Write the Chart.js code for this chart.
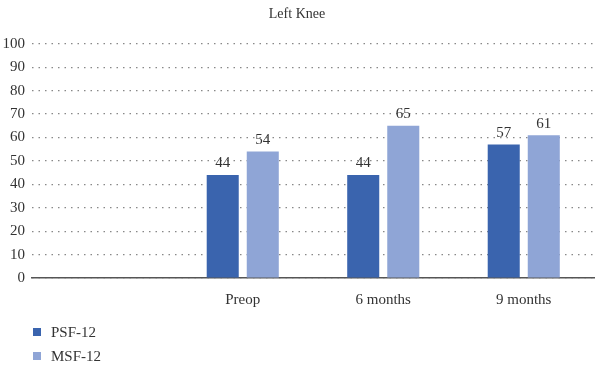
<!DOCTYPE html>
<html>
<head>
<meta charset="utf-8">
<script src="https://cdn.jsdelivr.net/npm/chart.js@4/dist/chart.umd.min.js"></script>
<style>
  html, body { margin: 0; padding: 0; background: #fff; }
  #wrap { width: 600px; height: 368px; }
</style>
</head>
<body>
<div id="wrap"><canvas id="chart" width="600" height="368"></canvas></div>
<script>
// Chart data
const categories = ['', 'Preop', '6 months', '9 months'];
const psfValues = [null, 44, 44, 57];
const msfValues = [null, 54, 65, 61];
const seriesNames = ['PSF-12', 'MSF-12'];
const seriesColors = ['#3a64ae', '#8fa5d6'];

const serif = '"Liberation Serif", "DejaVu Serif", serif';
const textColor = '#333';

// Values written above each bar
const barValues = {
    id: 'barValues',
    afterDatasetsDraw(chart) {
        const ctx = chart.ctx;
        ctx.save();
        ctx.font = '15px ' + serif;
        ctx.fillStyle = textColor;
        ctx.textAlign = 'center';
        ctx.textBaseline = 'bottom';
        chart.data.datasets.forEach((ds, i) => {
            chart.getDatasetMeta(i).data.forEach((bar, j) => {
                if (ds.data[j] == null) return;
                ctx.fillText(ds.data[j], bar.x, bar.y - 4);
            });
        });
        ctx.restore();
    }
};

// Vertical legend under the plot, left side
const stackedLegend = {
    id: 'stackedLegend',
    afterDraw(chart) {
        const ctx = chart.ctx;
        ctx.save();
        ctx.font = '15px ' + serif;
        ctx.textBaseline = 'middle';
        chart.data.datasets.forEach((ds, i) => {
            const y = 332 + i * 24;
            ctx.fillStyle = ds.backgroundColor;
            ctx.fillRect(33, y - 4, 8, 8);
            ctx.fillStyle = textColor;
            ctx.fillText(ds.label, 51, y + 1);
        });
        ctx.restore();
    }
};

new Chart(document.getElementById('chart'), {
    type: 'bar',
    data: {
        labels: categories,
        datasets: [
            { label: seriesNames[0], data: psfValues, backgroundColor: seriesColors[0] },
            { label: seriesNames[1], data: msfValues, backgroundColor: seriesColors[1] }
        ]
    },
    options: {
        responsive: false,
        animation: false,
        layout: { padding: { left: 0, right: 6, top: 0, bottom: 54 } },
        datasets: {
            bar: { categoryPercentage: 0.57, barPercentage: 0.8 }
        },
        plugins: {
            legend: { display: false },
            tooltip: { enabled: false },
            title: {
                display: true,
                text: 'Left Knee',
                color: textColor,
                font: { family: serif, size: 14, weight: 'normal' },
                padding: { top: 6, bottom: 21 }
            }
        },
        scales: {
            x: {
                grid: { display: false },
                border: { display: true, color: '#555', width: 1.5 },
                ticks: { color: textColor, font: { family: serif, size: 15 }, padding: 5 }
            },
            y: {
                min: 0,
                max: 100,
                afterFit(scale) { scale.width = 32; },
                ticks: { stepSize: 10, color: textColor, font: { family: serif, size: 15 }, padding: 7 },
                grid: { color: '#888', drawTicks: false, lineWidth: 1.2 },
                border: { display: false, dash: [1.5, 5] }
            }
        }
    },
    plugins: [barValues, stackedLegend]
});
</script>
</body>
</html>
